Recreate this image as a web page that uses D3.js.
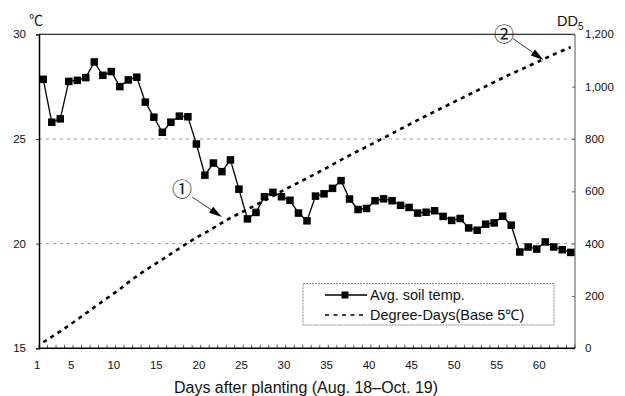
<!DOCTYPE html>
<html>
<head>
<meta charset="utf-8">
<script src="https://cdn.jsdelivr.net/npm/d3@7"></script>
<style>
  html, body { margin: 0; padding: 0; background: #fff; }
  svg { display: block; }
  text { font-family: "Liberation Sans", Arial, sans-serif; fill: #111; }
</style>
</head>
<body>
<div id="chart"></div>
<script>
// ---- data ----
const days = d3.range(1, 64); // 63 days: Aug 18 - Oct 19
const soilTemp = [27.85, 25.80, 25.96, 27.75, 27.80, 27.93, 28.68, 28.04, 28.22, 27.50,
  27.82, 27.95, 26.76, 26.04, 25.32, 25.80, 26.09, 26.06, 24.76, 23.27,
  23.85, 23.44, 24.00, 22.60, 21.18, 21.49, 22.24, 22.45, 22.24, 22.07,
  21.46, 21.09, 22.27, 22.38, 22.64, 23.01, 22.13, 21.63, 21.68, 22.05,
  22.14, 22.05, 21.83, 21.73, 21.46, 21.50, 21.57, 21.30, 21.11, 21.20,
  20.75, 20.64, 20.93, 20.99, 21.31, 20.88, 19.60, 19.84, 19.74, 20.08,
  19.84, 19.71, 19.58];
const degreeDays = [23, 44, 65, 87, 110, 133, 157, 180, 203, 226,
  252, 276, 298, 319, 340, 361, 382, 403, 423, 441,
  460, 479, 498, 515, 531, 548, 565, 583, 600, 617,
  633, 650, 667, 684, 702, 720, 737, 754, 770, 787,
  804, 821, 838, 855, 872, 888, 905, 921, 937, 953,
  969, 985, 1001, 1017, 1033, 1049, 1063, 1078, 1093, 1108,
  1123, 1137, 1151];
const xTickLabels = [1, 5, 10, 15, 20, 25, 30, 35, 40, 45, 50, 55, 60];
const leftTicks = [15, 20, 25, 30];
const rightTicks = [0, 200, 400, 600, 800, 1000, 1200];
const seriesNames = ["Avg. soil temp.", "Degree-Days(Base 5\u2103)"];
const annotations = [
  { label: "\u2460", tx: 17.3, ty: 609, x1: 18.5, y1: 578, x2: 22.0, y2: 502 },
  { label: "\u2461", tx: 55.15, ty: 1204, x1: 56.2, y1: 1184, x2: 59.8, y2: 1102 }
];

// ---- layout ----
const W = 625, H = 396;
const m = { left: 39, right: 50, top: 34.3, bottom: 47.7 };
const iw = W - m.left - m.right, ih = H - m.top - m.bottom;

const svg = d3.select("#chart").append("svg").attr("width", W).attr("height", H);
const g = svg.append("g").attr("transform", `translate(${m.left},${m.top})`);

const x = d3.scaleLinear().domain([0.5, 63.5]).range([0, iw]);
const yL = d3.scaleLinear().domain([15, 30]).range([ih, 0]);
const yR = d3.scaleLinear().domain([0, 1200]).range([ih, 0]);

// gridlines
g.append("g").selectAll("line").data([20, 25]).join("line")
  .attr("x1", 0).attr("x2", iw)
  .attr("y1", d => yL(d)).attr("y2", d => yL(d))
  .attr("stroke", "#9a9a9a").attr("stroke-width", 1).attr("stroke-dasharray", "3,4");

// frame: top & right
g.append("line").attr("x1", 0).attr("x2", iw).attr("y1", 0).attr("y2", 0)
  .attr("stroke", "#333").attr("stroke-width", 1.2);
g.append("line").attr("x1", iw).attr("x2", iw).attr("y1", 0).attr("y2", ih)
  .attr("stroke", "#555").attr("stroke-width", 1);

// left axis
const axL = d3.axisLeft(yL).tickValues(leftTicks).tickSize(3).tickPadding(10).tickFormat(d3.format("d"));
const gL = g.append("g").call(axL);
gL.select(".domain").attr("stroke", "#000").attr("stroke-width", 1.5);
gL.selectAll(".tick line").attr("stroke", "#444");
gL.selectAll("text").attr("font-size", 11.5).attr("fill", "#111");

// right axis
const axR = d3.axisRight(yR).tickValues(rightTicks).tickSize(-3).tickPadding(10).tickFormat(d3.format(","));
const gR = g.append("g").attr("transform", `translate(${iw},0)`).call(axR);
gR.select(".domain").remove();
gR.selectAll(".tick line").attr("stroke", "#666");
gR.selectAll("text").attr("font-size", 11.5).attr("fill", "#111").attr("x", 10);

// bottom axis: minor ticks at each day boundary, labels under days
const gB = g.append("g").attr("transform", `translate(0,${ih})`);
gB.selectAll("line.minor").data(d3.range(0.5, 64, 1)).join("line")
  .attr("class", "minor")
  .attr("x1", d => x(d)).attr("x2", d => x(d)).attr("y1", 0).attr("y2", -3.5)
  .attr("stroke", "#333").attr("stroke-width", 0.8);
gB.append("line").attr("x1", 0).attr("x2", iw).attr("y1", 0).attr("y2", 0)
  .attr("stroke", "#000").attr("stroke-width", 1.5);
gB.selectAll("text.xl").data(xTickLabels).join("text")
  .attr("class", "xl")
  .attr("x", d => x(d) - 6).attr("y", 21)
  .attr("text-anchor", "middle").attr("font-size", 11.5)
  .text(d => d);

// axis titles
g.append("text").attr("x", 306 - m.left).attr("y", H - m.top - 3)
  .attr("text-anchor", "middle").attr("font-size", 16)
  .text("Days after planting (Aug. 18\u2013Oct. 19)");
svg.append("text").attr("x", 36).attr("y", 25).attr("text-anchor", "middle")
  .attr("font-size", 14).style("font-family", "'Noto Sans CJK KR', sans-serif").text("\u2103");
const dd = svg.append("text").attr("x", 557).attr("y", 26).attr("font-size", 14.5);
dd.append("tspan").text("DD");
dd.append("tspan").attr("font-size", 10).attr("dy", 4).text("5");

// degree-days dashed line
g.append("path").datum(degreeDays)
  .attr("fill", "none").attr("stroke", "#000").attr("stroke-width", 2.6)
  .attr("stroke-dasharray", "4,4.5")
  .attr("d", d3.line().x((d, i) => x(days[i])).y(d => yR(d)));

// soil temp line + markers
g.append("path").datum(soilTemp)
  .attr("fill", "none").attr("stroke", "#000").attr("stroke-width", 1.3)
  .attr("d", d3.line().x((d, i) => x(days[i])).y(d => yL(d)));
const ms = 7.5;
g.selectAll("rect.pt").data(soilTemp).join("rect")
  .attr("class", "pt")
  .attr("x", (d, i) => x(days[i]) - ms / 2).attr("y", d => yL(d) - ms / 2)
  .attr("width", ms).attr("height", ms).attr("fill", "#000");

// annotations
const ag = g.append("g");
annotations.forEach(a => {
  const X1 = x(a.x1), Y1 = yR(a.y1), X2 = x(a.x2), Y2 = yR(a.y2);
  const ang = Math.atan2(Y2 - Y1, X2 - X1);
  const L = 13, w = 3.6;
  const bx = X2 - L * Math.cos(ang), by = Y2 - L * Math.sin(ang);
  ag.append("line").attr("x1", X1).attr("y1", Y1).attr("x2", bx).attr("y2", by)
    .attr("stroke", "#222").attr("stroke-width", 0.9);
  ag.append("path")
    .attr("d", `M${X2},${Y2}L${bx + w * Math.sin(ang)},${by - w * Math.cos(ang)}L${bx - w * Math.sin(ang)},${by + w * Math.cos(ang)}Z`)
    .attr("fill", "#000");
  ag.append("text").attr("x", x(a.tx)).attr("y", yR(a.ty))
    .attr("text-anchor", "middle").attr("dominant-baseline", "central")
    .attr("font-size", 20).style("font-family", "'Noto Sans CJK KR', sans-serif")
    .text(a.label);
});

// legend
const lg = svg.append("g");
lg.append("rect").attr("x", 303).attr("y", 283.5).attr("width", 251).attr("height", 41.5)
  .attr("fill", "#fff").attr("stroke", "#777").attr("stroke-width", 0.9).attr("stroke-dasharray", "2,1");
lg.append("line").attr("x1", 325).attr("x2", 367).attr("y1", 295).attr("y2", 295)
  .attr("stroke", "#000").attr("stroke-width", 1.3);
lg.append("rect").attr("x", 345 - 3.5).attr("y", 295 - 3.5).attr("width", 7).attr("height", 7).attr("fill", "#000");
lg.append("line").attr("x1", 325).attr("x2", 367).attr("y1", 315).attr("y2", 315)
  .attr("stroke", "#000").attr("stroke-width", 1.5).attr("stroke-dasharray", "4,4.5");
lg.selectAll("text.lt").data(seriesNames).join("text")
  .attr("class", "lt")
  .attr("x", 370).attr("y", (d, i) => 295 + i * 20)
  .attr("dominant-baseline", "central").attr("font-size", 14.5)
  .text(d => d);
</script>
</body>
</html>
